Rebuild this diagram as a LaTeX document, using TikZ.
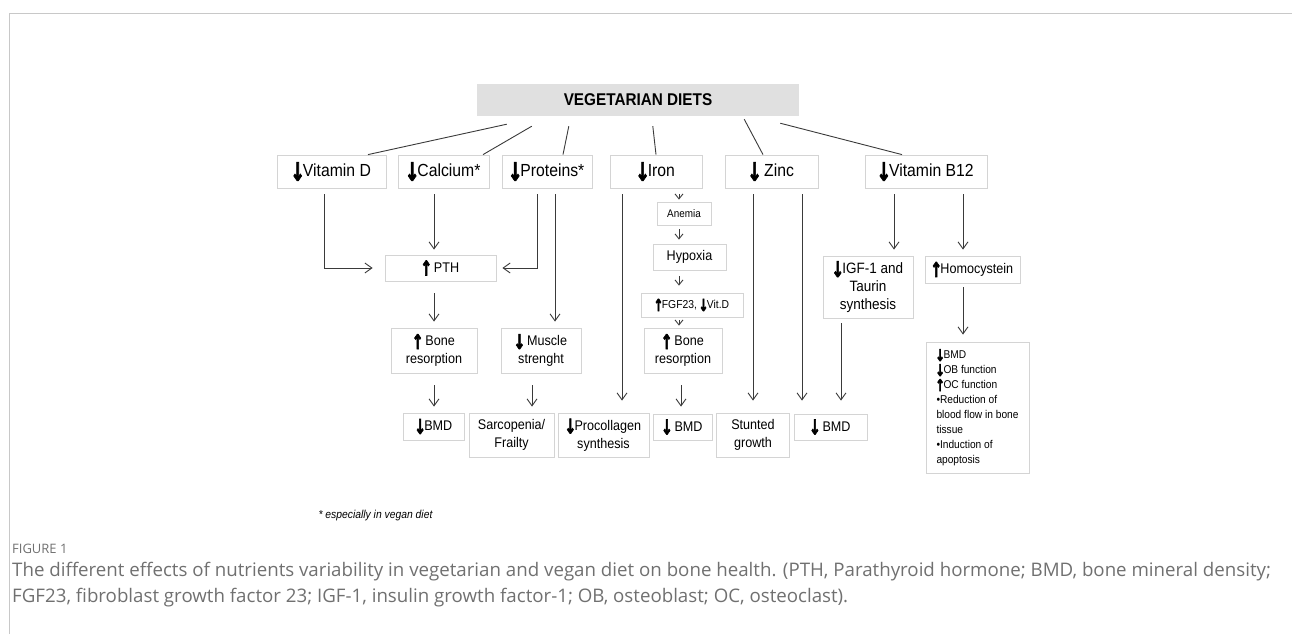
\documentclass[tikz,border=0pt]{standalone}
\usepackage{fontspec}
\setmainfont{Liberation Sans}[FakeStretch=0.9]
\newfontfamily\capfont{Open Sans}
\newfontfamily\arrfont{DejaVu Sans}[UprightFont=*-Bold, FakeBold=3.5]
\usetikzlibrary{arrows.meta}
\definecolor{boxgray}{HTML}{D4D4D4}
\definecolor{titlegray}{HTML}{E0E0E0}
\definecolor{linegray}{HTML}{3A3A3A}
\definecolor{framegray}{HTML}{C8C8C8}
\definecolor{capgray}{HTML}{707070}
\newcommand{\arrdn}{\kern-0.1em\raisebox{-0.22em}{\scalebox{1}[1.45]{\arrfont ↓}}\kern-0.12em}
\newcommand{\arrup}{\kern-0.1em\raisebox{-0.22em}{\scalebox{1}[1.45]{\arrfont ↑}}\kern-0.12em}

\begin{document}
\begin{tikzpicture}[
    x=1pt, y=-1pt,
    plain_box/.style={draw=boxgray, line width=0.8pt, inner sep=2pt, align=center, font=\fontsize{14}{18}\selectfont},
    top_box/.style={plain_box, minimum height=33pt, font=\fontsize{17.5}{21}\selectfont},
    title_box/.style={fill=titlegray, minimum width=322pt, minimum height=32pt, font=\bfseries\fontsize{17}{20}\selectfont},
    link/.style={draw=linegray, line width=0.9pt},
    directed/.style={link, -{Straight Barb[length=7pt,width=10pt]}},
    directed_small/.style={link, -{Straight Barb[length=5pt,width=8pt]}}
]
    \useasboundingbox (0,0) rectangle (1292,634);
    \draw[framegray, line width=1.5pt] (9.5,634) -- (9.5,13.5) -- (1292,13.5);

    \node[title_box] (veg) at (638,100) {VEGETARIAN DIETS};
    \node[top_box, minimum width=109pt] (vitd) at (331.5,171.5) {\arrdn Vitamin D};
    \node[top_box, minimum width=91pt] (calc) at (443.5,171.5) {\arrdn Calcium*};
    \node[top_box, minimum width=90pt] (prot) at (547,171.5) {\arrdn Proteins*};
    \node[top_box, minimum width=92pt] (iron) at (656,171.5) {\arrdn Iron};
    \node[top_box, minimum width=93pt] (zinc) at (771.5,171.5) {\arrdn{} Zinc};
    \node[top_box, minimum width=122pt] (b12) at (926,171.5) {\arrdn Vitamin B12};

    \node[plain_box, minimum width=111pt, minimum height=26pt] (pth) at (440.5,268) {\arrup{} PTH};
    \node[plain_box, minimum width=86pt, minimum height=45pt] (boneA) at (434,350.5) {\arrup{} Bone\\resorption};
    \node[plain_box, minimum width=80pt, minimum height=45pt] (muscle) at (541,350.5) {\arrdn{} Muscle\\strenght};
    \node[plain_box, minimum width=54pt, minimum height=23pt, font=\fontsize{11}{13}\selectfont] (anemia) at (684,213.5) {Anemia};
    \node[plain_box, minimum width=73pt, minimum height=26pt] (hypoxia) at (689.5,257) {Hypoxia};
    \node[plain_box, minimum width=102pt, minimum height=24pt, font=\fontsize{11.5}{13}\selectfont] (fgf) at (692,305) {\arrup FGF23,\ \arrdn Vit.D};
    \node[plain_box, minimum width=78pt, minimum height=45pt] (boneB) at (683,350.5) {\arrup{} Bone\\resorption};
    \node[plain_box, minimum width=90pt, minimum height=62pt, font=\fontsize{15}{18}\selectfont] (igf) at (868,287) {\arrdn IGF-1 and\\Taurin\\synthesis};
    \node[plain_box, minimum width=95pt, minimum height=27pt] (homo) at (972.5,269.5) {\arrup Homocystein};
    \node[plain_box, minimum width=103pt, minimum height=131pt, align=left, font=\fontsize{11.3}{15}\selectfont] (effects) at (977.5,407.5)
        {\arrdn BMD\\\arrdn OB function\\\arrup OC function\\•Reduction of\\blood flow in bone\\tissue\\•Induction of\\apoptosis};

    \node[plain_box, minimum width=61pt, minimum height=27pt] (bmdA) at (434,426.5) {\arrdn BMD};
    \node[plain_box, minimum width=85pt, minimum height=44pt] (sarc) at (511.5,435) {Sarcopenia/\\Frailty};
    \node[plain_box, minimum width=91pt, minimum height=44pt] (proc) at (603.5,435) {\arrdn Procollagen\\synthesis};
    \node[plain_box, minimum width=59pt, minimum height=26pt] (bmdB) at (682.5,427) {\arrdn{} BMD};
    \node[plain_box, minimum width=73pt, minimum height=44pt] (stunt) at (753,435) {Stunted\\growth};
    \node[plain_box, minimum width=73pt, minimum height=26pt] (bmdC) at (830.5,427) {\arrdn{} BMD};

    \node[anchor=west, font=\itshape\fontsize{11.5}{13}\selectfont] (note) at (315,516) {* especially in vegan diet};
    \node[anchor=west, inner sep=0, text=capgray, font=\capfont\fontsize{13}{15}\selectfont] (figlabel) at (12,549) {FIGURE 1};
    \node[anchor=west, inner sep=0, text=capgray, font=\capfont\fontsize{18.7}{22}\selectfont] (capA) at (12,572)
        {The different effects of nutrients variability in vegetarian and vegan diet on bone health. (PTH, Parathyroid hormone; BMD, bone mineral density;};
    \node[anchor=west, inner sep=0, text=capgray, font=\capfont\fontsize{18.7}{22}\selectfont] (capB) at (12,598)
        {FGF23, fibroblast growth factor 23; IGF-1, insulin growth factor-1; OB, osteoblast; OC, osteoclast).};

    % lines from the title bar
    \draw[link] ([xshift=30pt,yshift=-8pt]veg.south west) -- ([xshift=36.5pt]vitd.north);
    \draw[link] ([xshift=55pt,yshift=-10pt]veg.south west) -- ([xshift=39.5pt]calc.north);
    \draw[link] ([xshift=92pt,yshift=-10pt]veg.south west) -- ([xshift=16pt]prot.north);
    \draw[link] ([xshift=176pt,yshift=-10pt]veg.south west) -- (iron.north);
    \draw[link] ([xshift=-55pt,yshift=-3pt]veg.south east) -- ([xshift=-8.5pt]zinc.north);
    \draw[link] ([xshift=-19pt,yshift=-7pt]veg.south east) -- ([xshift=-24pt]b12.north);

    % vitamin D, calcium, proteins
    \draw[directed, shorten >=12pt] ([xshift=-7.5pt,yshift=-6pt]vitd.south) |- (pth.west);
    \draw[directed, shorten >=5pt] ([xshift=-9.5pt,yshift=-6pt]calc.south) -- ([xshift=-6.5pt]pth.north);
    \draw[directed, shorten >=6pt] ([xshift=-10pt,yshift=-6pt]prot.south) |- (pth.east);
    \draw[directed, shorten >=6pt] ([xshift=8pt,yshift=-6pt]prot.south) -- ([xshift=14pt]muscle.north);
    \draw[directed, shorten >=6pt] ([xshift=-6.5pt,yshift=-12pt]pth.south) -- (boneA.north);
    \draw[directed, shorten >=6pt] ([yshift=-12pt]boneA.south) -- (bmdA.north);
    \draw[directed, shorten >=6pt] ([xshift=-9pt,yshift=-12pt]muscle.south) -- ([xshift=20.5pt]sarc.north);

    % iron
    \draw[directed, shorten >=12pt] ([xshift=-34pt,yshift=-6pt]iron.south) -- ([xshift=18.5pt]proc.north);
    \draw[directed_small, shorten >=2pt] ([xshift=23pt,yshift=-6pt]iron.south) -- ([xshift=-5pt]anemia.north);
    \draw[directed_small, shorten >=4pt] ([xshift=-5pt,yshift=-4pt]anemia.south) -- ([xshift=-10.5pt]hypoxia.north);
    \draw[directed_small, shorten >=7pt] ([xshift=-10.5pt,yshift=-6pt]hypoxia.south) -- ([xshift=-13pt]fgf.north);
    \draw[directed_small, shorten >=2pt] ([xshift=-13pt,yshift=-3pt]fgf.south) -- ([xshift=-4pt]boneB.north);
    \draw[directed, shorten >=7pt] ([xshift=-2pt,yshift=-12pt]boneB.south) -- ([xshift=-1.5pt]bmdB.north);

    % zinc
    \draw[directed, shorten >=12pt] ([xshift=-18.5pt,yshift=-6pt]zinc.south) -- (stunt.north);
    \draw[directed, shorten >=13pt] ([xshift=30.5pt,yshift=-6pt]zinc.south) -- ([xshift=-28.5pt]bmdC.north);

    % vitamin B12
    \draw[directed, shorten >=6pt] ([xshift=-32pt,yshift=-6pt]b12.south) -- ([xshift=26pt]igf.north);
    \draw[directed, shorten >=6pt] ([xshift=37pt,yshift=-6pt]b12.south) -- ([xshift=-9.5pt]homo.north);
    \draw[directed, shorten >=13pt] ([xshift=-27pt,yshift=-5pt]igf.south) -- ([xshift=10.5pt]bmdC.north);
    \draw[directed, shorten >=7pt] ([xshift=-9.5pt,yshift=-4pt]homo.south) -- ([xshift=-14.5pt]effects.north);
\end{tikzpicture}
\end{document}
